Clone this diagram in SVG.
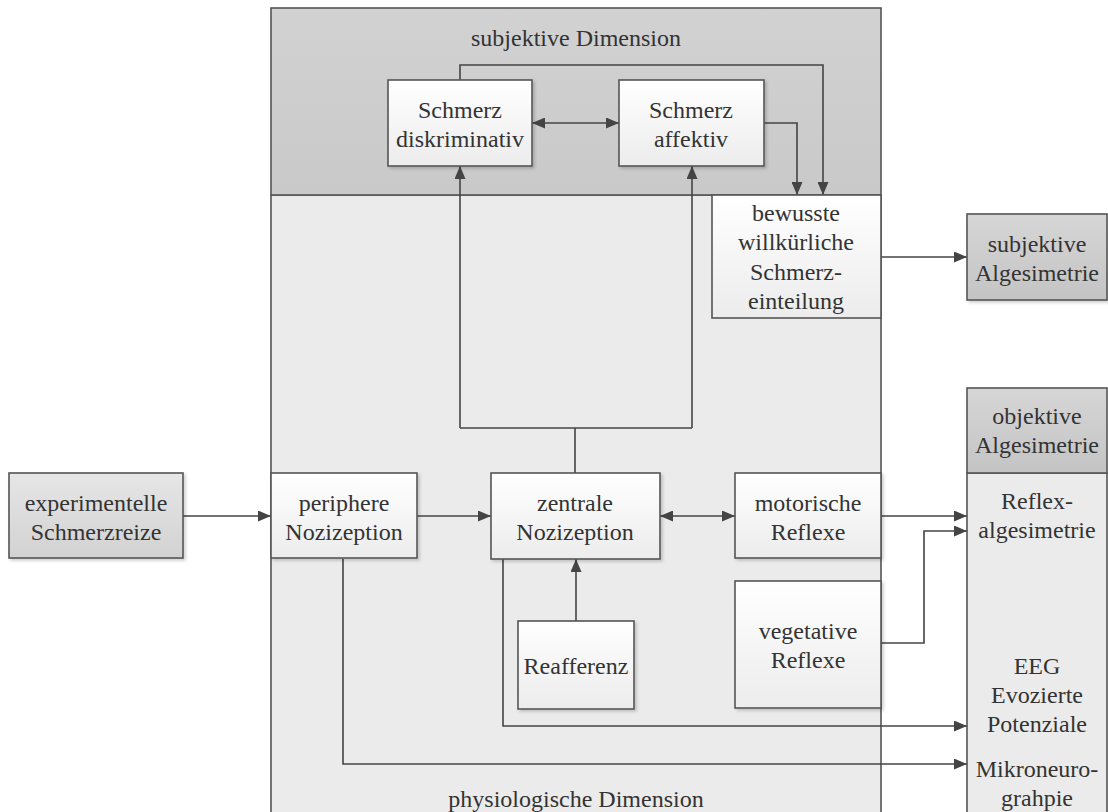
<svg xmlns="http://www.w3.org/2000/svg" width="1108" height="812" viewBox="0 0 1108 812">
<defs>
<style>
.t{font-family:'Liberation Serif','Times New Roman',Times,'DejaVu Serif',serif;font-size:24px;fill:#333;text-anchor:middle}
.box{stroke:#555;stroke-width:1.6}
.c{fill:none;stroke:#444;stroke-width:1.6}
.wn{fill:url(#gW)}
</style>
<linearGradient id="gW" x1="0" y1="0" x2="0" y2="1"><stop offset="0" stop-color="#ffffff"/><stop offset="1" stop-color="#ececec"/></linearGradient>
<linearGradient id="gD" x1="0" y1="0" x2="0" y2="1"><stop offset="0" stop-color="#d6d6d6"/><stop offset="1" stop-color="#c4c4c4"/></linearGradient>
<linearGradient id="gE" x1="0" y1="0" x2="0" y2="1"><stop offset="0" stop-color="#e6e6e6"/><stop offset="1" stop-color="#d2d2d2"/></linearGradient>
<linearGradient id="gS" x1="0" y1="0" x2="0" y2="1"><stop offset="0" stop-color="#d2d2d2"/><stop offset="1" stop-color="#c9c9c9"/></linearGradient>
<filter id="sh" x="-10%" y="-10%" width="130%" height="130%"><feDropShadow dx="2" dy="2" stdDeviation="1.5" flood-color="#000" flood-opacity="0.18"/></filter>
<marker id="ar" markerUnits="userSpaceOnUse" markerWidth="13" markerHeight="11" refX="13" refY="5.5" orient="auto-start-reverse"><path d="M0,0 L13,5.5 L0,11 z" fill="#444"/></marker>
</defs>
<rect width="1108" height="812" fill="#ffffff"/>
<g font-family="'Liberation Serif', 'Times New Roman', Times, 'DejaVu Serif', serif">
<g id="panels">
<rect x="271" y="195" width="610" height="630" fill="#ebebeb" class="box"/>
<rect x="271" y="8" width="610" height="187" fill="url(#gS)" class="box"/>
<text class="t" x="576" y="46">subjektive Dimension</text>
<text class="t" x="576" y="807">physiologische Dimension</text>
</g>

<g id="objektiv">
<rect x="967" y="473" width="140" height="350" fill="#ebebeb" class="box"/>
<rect x="967" y="388" width="140" height="85" fill="url(#gD)" class="box"/>
<text class="t" x="1037" y="424">objektive</text>
<text class="t" x="1037" y="453">Algesimetrie</text>
<text class="t" x="1037" y="509">Reflex-</text>
<text class="t" x="1037" y="538">algesimetrie</text>
<text class="t" x="1037" y="674">EEG</text>
<text class="t" x="1037" y="703">Evozierte</text>
<text class="t" x="1037" y="732">Potenziale</text>
<text class="t" x="1037" y="777">Mikroneuro-</text>
<text class="t" x="1037" y="806">grahpie</text>
</g>

<g id="connectors">
<polyline class="c" points="460,80 460,65 823,65 823,195" marker-end="url(#ar)"/>
<polyline class="c" points="764,123 797,123 797,195" marker-end="url(#ar)"/>
<line class="c" x1="532" y1="123" x2="619" y2="123" marker-start="url(#ar)" marker-end="url(#ar)"/>
<polyline class="c" points="575,473 575,428"/>
<line class="c" x1="460" y1="428" x2="692" y2="428"/>
<line class="c" x1="460" y1="428" x2="460" y2="166" marker-end="url(#ar)"/>
<line class="c" x1="692" y1="428" x2="692" y2="166" marker-end="url(#ar)"/>
<line class="c" x1="881" y1="257" x2="967" y2="257" marker-end="url(#ar)"/>
<line class="c" x1="183" y1="516" x2="271" y2="516" marker-end="url(#ar)"/>
<line class="c" x1="417" y1="516" x2="491" y2="516" marker-end="url(#ar)"/>
<line class="c" x1="660" y1="516" x2="735" y2="516" marker-start="url(#ar)" marker-end="url(#ar)"/>
<line class="c" x1="881" y1="516" x2="967" y2="516" marker-end="url(#ar)"/>
<polyline class="c" points="881,643 924,643 924,531 967,531" marker-end="url(#ar)"/>
<line class="c" x1="576" y1="621" x2="576" y2="559" marker-end="url(#ar)"/>
<polyline class="c" points="503,559 503,726 967,726" marker-end="url(#ar)"/>
<polyline class="c" points="343,559 343,764 967,764" marker-end="url(#ar)"/>
</g>

<g id="diskriminativ">
<rect x="388" y="80" width="144" height="86" class="box wn" filter="url(#sh)"/>
<text class="t" x="460" y="118">Schmerz</text>
<text class="t" x="460" y="147">diskriminativ</text>
</g>
<g id="affektiv">
<rect x="619" y="80" width="145" height="86" class="box wn" filter="url(#sh)"/>
<text class="t" x="691" y="118">Schmerz</text>
<text class="t" x="691" y="147">affektiv</text>
</g>
<g id="bewusste">
<rect x="712" y="195" width="169" height="123" class="box wn"/>
<text class="t" x="796" y="221">bewusste</text>
<text class="t" x="796" y="250">willkürliche</text>
<text class="t" x="796" y="280">Schmerz-</text>
<text class="t" x="796" y="309">einteilung</text>
</g>
<g id="subjAlg">
<rect x="967" y="214" width="140" height="86" class="box" fill="url(#gD)" filter="url(#sh)"/>
<text class="t" x="1037" y="252">subjektive</text>
<text class="t" x="1037" y="281">Algesimetrie</text>
</g>
<g id="experimentelle">
<rect x="9" y="473" width="174" height="85" class="box" fill="url(#gE)" filter="url(#sh)"/>
<text class="t" x="96" y="511">experimentelle</text>
<text class="t" x="96" y="540">Schmerzreize</text>
</g>
<g id="periphere">
<rect x="271" y="473" width="146" height="85" class="box wn" filter="url(#sh)"/>
<text class="t" x="344" y="511">periphere</text>
<text class="t" x="344" y="540">Nozizeption</text>
</g>
<g id="zentrale">
<rect x="491" y="473" width="169" height="86" class="box wn" filter="url(#sh)"/>
<text class="t" x="575" y="511">zentrale</text>
<text class="t" x="575" y="540">Nozizeption</text>
</g>
<g id="motorische">
<rect x="735" y="473" width="146" height="85" class="box wn" filter="url(#sh)"/>
<text class="t" x="808" y="511">motorische</text>
<text class="t" x="808" y="540">Reflexe</text>
</g>
<g id="reafferenz">
<rect x="518" y="621" width="116" height="88" class="box wn" filter="url(#sh)"/>
<text class="t" x="576" y="674">Reafferenz</text>
</g>
<g id="vegetative">
<rect x="735" y="581" width="146" height="127" class="box wn" filter="url(#sh)"/>
<text class="t" x="808" y="639">vegetative</text>
<text class="t" x="808" y="668">Reflexe</text>
</g>
</g>
</svg>
